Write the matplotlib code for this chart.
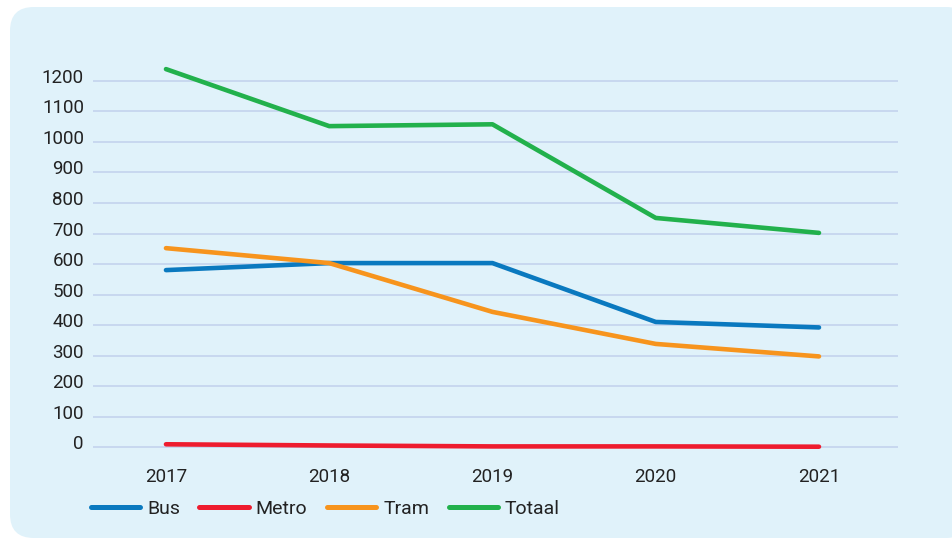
import matplotlib
matplotlib.use("Agg")
import matplotlib.pyplot as plt
import matplotlib.transforms as mtransforms
from matplotlib.patches import FancyBboxPatch

years = [2017, 2018, 2019, 2020, 2021]
bus = [580, 603, 603, 410, 392]
metro = [9, 5, 2, 2, 1]
tram = [652, 603, 443, 338, 297]
totaal = [1239, 1052, 1058, 751, 702]
yticks = [0, 100, 200, 300, 400, 500, 600, 700, 800, 900, 1000, 1100, 1200]

series = [("Bus", bus, "#0a79bf"), ("Metro", metro, "#ee1c2e"),
          ("Tram", tram, "#f7941d"), ("Totaal", totaal, "#22b14c")]

plt.rcParams['font.family'] = ['Roboto', 'DejaVu Sans']

W, H = 952, 540
fig = plt.figure(figsize=(W/100, H/100), dpi=100)
fig.patch.set_facecolor("white")

panel = FancyBboxPatch((10/W, 2/H), 960/W, 531/H,
                       boxstyle="round,pad=0,rounding_size=0.025",
                       transform=fig.transFigure, facecolor="#e0f2fa",
                       edgecolor="none", zorder=-10, mutation_aspect=W/H)
fig.patches.append(panel)

ax = fig.add_axes([93/W, 0.1609, (898-93)/W, 0.723])
ax.set_facecolor("none")
for name, vals, col in series:
    ax.plot(years, vals, color=col, lw=3.3, solid_capstyle='round',
            solid_joinstyle='round', label=name, zorder=3)

ax.set_xlim(2016.553, 2021.484)
ax.set_ylim(-20, 1260)
ax.set_yticks(yticks)
ax.set_xticks(years)
ax.set_xticklabels([str(y) for y in years])
ax.grid(axis='y', color="#c6d6ee", lw=1.3, zorder=1)
ax.grid(axis='x', visible=False)
for s in ax.spines.values():
    s.set_visible(False)
ax.tick_params(axis='both', length=0, labelsize=13.5, colors="#222222")
ax.tick_params(axis='y', pad=6.5)
ax.tick_params(axis='x', pad=11)
off = mtransforms.ScaledTranslation(0, 5/100, fig.dpi_scale_trans)
for lab in ax.get_yticklabels():
    lab.set_transform(lab.get_transform() + off)

leg = fig.legend(loc='center left', bbox_to_anchor=(73/W, 1 - 509/H), ncol=4,
                 frameon=False, fontsize=14, handlelength=2.55,
                 handletextpad=0.35, columnspacing=1.0, labelcolor="#222222")
for h in leg.legend_handles:
    h.set_linewidth(3.6)
    h.set_solid_capstyle('round')

fig.savefig("out.png", dpi=100, facecolor=fig.get_facecolor())
